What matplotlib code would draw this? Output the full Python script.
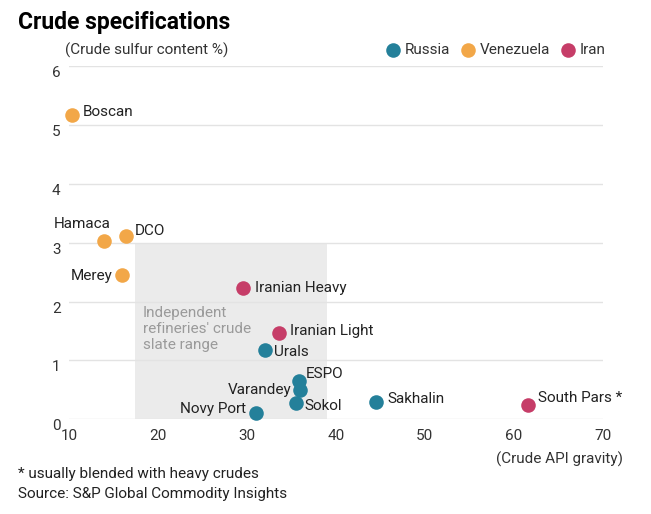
import matplotlib.pyplot as plt

plt.rcParams['font.family'] = ['Roboto', 'DejaVu Sans']

# data: API gravity (x) and sulfur content % (y)
russia_names = ['Urals', 'ESPO', 'Varandey', 'Sokol', 'Novy Port', 'Sakhalin']
russia_api = [32.0, 35.8, 36.0, 35.5, 31.0, 44.5]
russia_sulfur = [1.18, 0.65, 0.50, 0.28, 0.10, 0.29]

venezuela_names = ['Boscan', 'Hamaca', 'DCO', 'Merey']
venezuela_api = [10.3, 13.9, 16.4, 16.0]
venezuela_sulfur = [5.17, 3.02, 3.11, 2.45]

iran_names = ['Iranian Heavy', 'Iranian Light', 'South Pars *']
iran_api = [29.6, 33.6, 61.6]
iran_sulfur = [2.23, 1.46, 0.25]

slate_api = [17.4, 39.0]
slate_sulfur = [0, 3]

# label offsets in pixels (dx, dy, ha)
offsets = {
    'Boscan': (11, 3, 'left'), 'Hamaca': (-22, 17, 'center'), 'DCO': (9, 5, 'left'),
    'Merey': (-10, -1, 'right'), 'Iranian Heavy': (12, 0, 'left'),
    'Iranian Light': (11, 2, 'left'), 'Urals': (9, -2, 'left'), 'ESPO': (7, 7, 'left'),
    'Varandey': (-9, 0, 'right'), 'Sokol': (9, -3, 'left'), 'Novy Port': (-10, 4, 'right'),
    'Sakhalin': (11, 3, 'left'), 'South Pars *': (10, 7, 'left'),
}

colors = {'Russia': '#24809a', 'Venezuela': '#f2a748', 'Iran': '#c63d68'}

fig = plt.figure(figsize=(6.51, 5.14), dpi=100)
ax = fig.add_axes([0.106, 0.1842, 0.820, 0.6876])

ax.axvspan(slate_api[0], slate_api[1], ymin=slate_sulfur[0] / 6, ymax=slate_sulfur[1] / 6,
           color='#ebebeb', lw=0, zorder=0)
ax.text(18.3, 1.93, "Independent\nrefineries' crude\nslate range", color='#9a9a9a',
        fontsize=11, va='top', ha='left', linespacing=1.2)

groups = [('Russia', russia_names, russia_api, russia_sulfur),
          ('Venezuela', venezuela_names, venezuela_api, venezuela_sulfur),
          ('Iran', iran_names, iran_api, iran_sulfur)]

for country, names, xs, ys in groups:
    ax.scatter(xs, ys, s=110, color=colors[country], label=country, zorder=3,
               clip_on=False, linewidths=0)
    for n, x, y in zip(names, xs, ys):
        dx, dy, ha = offsets[n]
        ax.annotate(n, (x, y), xytext=(dx * 0.72, dy * 0.72), textcoords='offset points',
                    ha=ha, va='center', fontsize=11, color='#222222')

ax.set_xlim(10, 70)
ax.set_ylim(0, 6)
ax.set_xticks(range(10, 71, 10))
ax.set_yticks(range(0, 7))
for y in range(0, 7):
    ax.axhline(y, color='#e3e3e3', lw=1, zorder=1)
for s in ax.spines.values():
    s.set_visible(False)
ax.tick_params(length=0, labelsize=11, colors='#333333')
ax.tick_params(axis='x', pad=7)
ax.tick_params(axis='y', pad=6)
for lbl in ax.get_yticklabels():
    lbl.set_verticalalignment('top')

fig.text(0.028, 0.957, 'Crude specifications', fontsize=16.5, fontweight='bold', va='center')
fig.text(0.100, 0.903, '(Crude sulfur content %)', fontsize=11, color='#333333', va='center')
fig.text(0.957, 0.107, '(Crude API gravity)', fontsize=11, color='#333333', va='center', ha='right')
fig.text(0.028, 0.078, '* usually blended with heavy crudes', fontsize=11, color='#222222', va='center')
fig.text(0.028, 0.039, 'Source: S&P Global Commodity Insights', fontsize=11, color='#222222', va='center')

ax.legend(loc='center right', bbox_to_anchor=(1.017, 1.045), ncol=3, frameon=False,
          handlelength=0.8, handletextpad=0.35, columnspacing=0.8, fontsize=11,
          markerscale=1.0, borderaxespad=0, labelcolor='#333333')

fig.savefig('out.png', dpi=100)
